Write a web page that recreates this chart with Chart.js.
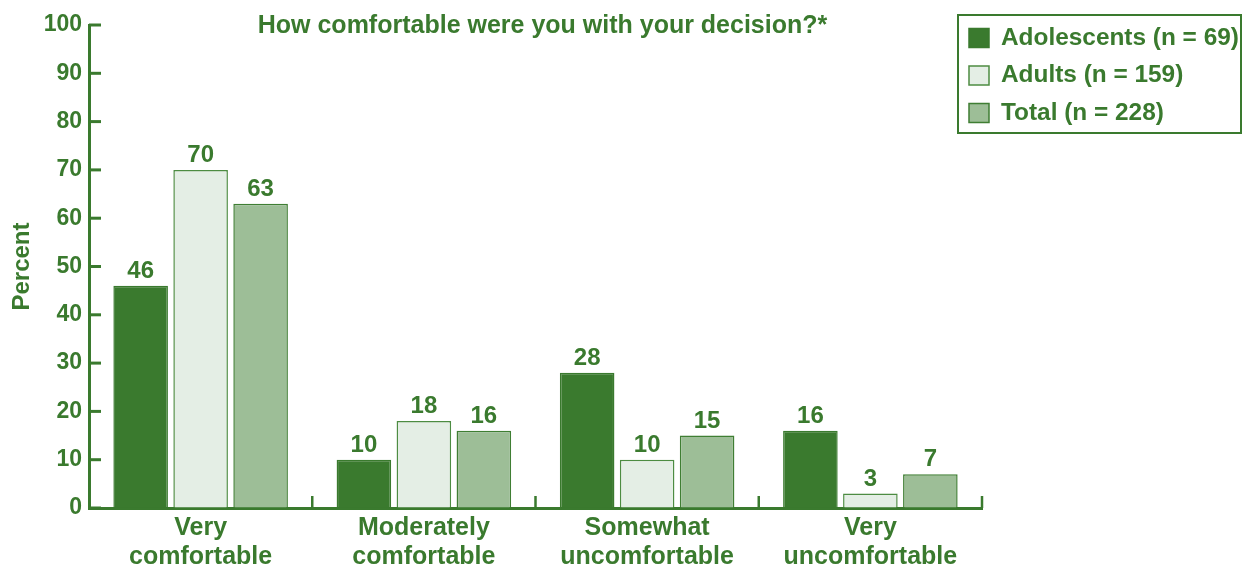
<!DOCTYPE html>
<html>
<head>
<meta charset="utf-8">
<script src="https://cdn.jsdelivr.net/npm/chart.js@4.4.1/dist/chart.umd.min.js"></script>
<style>
  html, body { margin: 0; padding: 0; background: #fff; }
  #wrap { width: 1244px; height: 569px; position: relative; }
</style>
</head>
<body>
<div id="wrap"><canvas id="comfortChart"></canvas></div>
<script>
// Categories (two-line labels) and percentages per group
const categories = [
    ['Very', 'comfortable'],
    ['Moderately', 'comfortable'],
    ['Somewhat', 'uncomfortable'],
    ['Very', 'uncomfortable']
];
const adolescents = [46, 10, 28, 16];
const adults = [70, 18, 10, 3];
const total = [63, 16, 15, 7];
const seriesNames = ['Adolescents (n = 69)', 'Adults (n = 159)', 'Total (n = 228)'];
const titleText = 'How comfortable were you with your decision?*';
const axisTitle = 'Percent';

const GREEN = '#3a7a2e';
const FONT = '"Liberation Sans", Arial, sans-serif';

// Inward y ticks, category dividers, value labels, title and boxed legend
const decorations = {
    id: 'decorations',
    afterDraw(chart) {
        const ctx = chart.ctx;
        const area = chart.chartArea;
        const x = chart.scales.x;
        const y = chart.scales.y;
        ctx.save();
        ctx.strokeStyle = GREEN;
        ctx.fillStyle = GREEN;

        // y ticks pointing into the plot
        ctx.lineWidth = 3;
        y.ticks.forEach(t => {
            const py = y.getPixelForValue(t.value);
            ctx.beginPath();
            ctx.moveTo(area.left, py);
            ctx.lineTo(area.left + 12, py);
            ctx.stroke();
        });

        // short upward dividers between categories
        ctx.lineWidth = 2.5;
        const n = categories.length;
        for (let i = 0; i < n; i++) {
            const px = i < n - 1
                ? (x.getPixelForValue(i) + x.getPixelForValue(i + 1)) / 2
                : area.right;
            ctx.beginPath();
            ctx.moveTo(px, area.bottom);
            ctx.lineTo(px, area.bottom - 12);
            ctx.stroke();
        }

        // values above the bars
        ctx.font = 'bold 24px ' + FONT;
        ctx.textAlign = 'center';
        ctx.textBaseline = 'alphabetic';
        chart.data.datasets.forEach((ds, di) => {
            chart.getDatasetMeta(di).data.forEach((bar, i) => {
                ctx.fillText(String(ds.data[i]), bar.x, bar.y - 8);
            });
        });

        // title
        ctx.font = 'bold 25px ' + FONT;
        ctx.textBaseline = 'middle';
        ctx.fillText(titleText, (area.left + area.right) / 2 + 7, area.top + 1);

        // legend box
        ctx.font = 'bold 24.4px ' + FONT;
        ctx.lineWidth = 2;
        ctx.strokeRect(958, 15, 283, 118);
        ctx.textAlign = 'left';
        chart.data.datasets.forEach((ds, di) => {
            const rowY = 38 + di * 37.5;
            ctx.fillStyle = ds.backgroundColor;
            ctx.fillRect(969, rowY - 9.5, 20, 19);
            ctx.lineWidth = 1.5;
            ctx.strokeStyle = ds.borderColor;
            ctx.strokeRect(969, rowY - 9.5, 20, 19);
            ctx.fillStyle = GREEN;
            ctx.fillText(ds.label, 1001, rowY);
        });
        ctx.restore();
    }
};

new Chart(document.getElementById('comfortChart'), {
    type: 'bar',
    data: {
        labels: categories,
        datasets: [
            { label: seriesNames[0], data: adolescents, backgroundColor: '#3a7a2e', borderColor: '#3a7a2e', borderWidth: 1.5 },
            { label: seriesNames[1], data: adults, backgroundColor: '#e4eee5', borderColor: '#4d8c42', borderWidth: 1.5 },
            { label: seriesNames[2], data: total, backgroundColor: '#9dbe97', borderColor: '#3f7e33', borderWidth: 1.5 }
        ]
    },
    options: {
        responsive: true,
        maintainAspectRatio: false,
        animation: false,
        categoryPercentage: 0.806,
        barPercentage: 0.91,
        layout: { padding: { left: 0, right: 262, top: 25, bottom: 0 } },
        plugins: {
            legend: { display: false },
            tooltip: { enabled: false }
        },
        scales: {
            x: {
                grid: { display: true, drawOnChartArea: false, drawTicks: false },
                border: { display: true, color: GREEN, width: 3 },
                ticks: {
                    color: GREEN,
                    padding: 6,
                    maxRotation: 0,
                    autoSkip: false,
                    font: { family: FONT, size: 25, weight: 'bold', lineHeight: 1.16 }
                },
                afterFit(scale) { scale.height = 61; }
            },
            y: {
                min: 0,
                max: 100,
                grid: { display: true, drawOnChartArea: false, drawTicks: false },
                border: { display: true, color: GREEN, width: 3 },
                ticks: {
                    stepSize: 10,
                    color: GREEN,
                    padding: 7,
                    font: { family: FONT, size: 23, weight: 'bold' }
                },
                title: {
                    display: true,
                    text: axisTitle,
                    color: GREEN,
                    padding: { top: 8, bottom: 0 },
                    font: { family: FONT, size: 24, weight: 'bold', lineHeight: 1.2 }
                },
                afterFit(scale) { scale.width = 89; }
            }
        }
    },
    plugins: [decorations]
});
</script>
</body>
</html>
